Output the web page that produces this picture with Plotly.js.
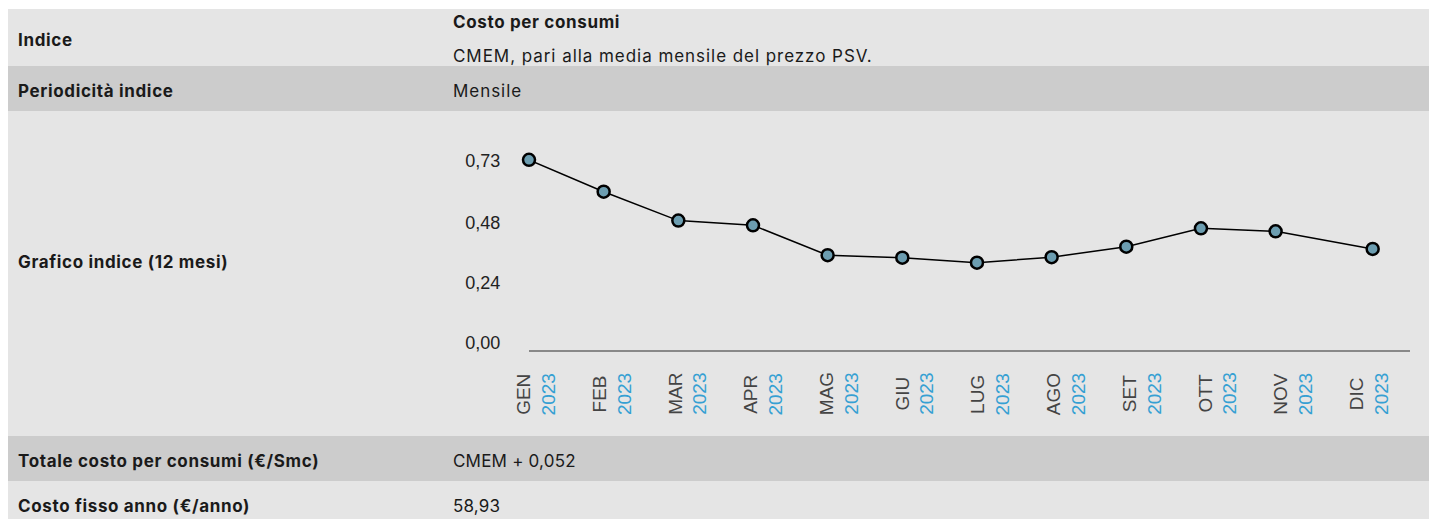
<!DOCTYPE html>
<html>
<head>
<meta charset="utf-8">
<script src="https://cdn.plot.ly/plotly-3.0.1.min.js"></script>
<style>
  html, body { margin: 0; padding: 0; background: #ffffff; width: 1430px; height: 519px; overflow: hidden; }
  #table { position: absolute; left: 0; top: 0; }
  #chart { position: absolute; left: 0; top: 111px; width: 1430px; height: 325px; }
</style>
</head>
<body>
<svg id="table" width="1430" height="519"></svg>
<div id="chart"></div>
<script>
// ---- data ----
const months = ['GEN','FEB','MAR','APR','MAG','GIU','LUG','AGO','SET','OTT','NOV','DIC'];
const years  = ['2023','2023','2023','2023','2023','2023','2023','2023','2023','2023','2023','2023'];
const values = [0.733,0.605,0.489,0.470,0.350,0.340,0.320,0.342,0.384,0.458,0.446,0.375];
const pointX = [0,1,2,3,4,5,6,7,8,9,10,11.30];
const yTickVals = [0,0.24,0.48,0.73];
const yTickText = ['0,00','0,24','0,48','0,73'];
const rowLabels = ['Indice','Periodicità indice','Grafico indice (12 mesi)','Totale costo per consumi (€/Smc)','Costo fisso anno (€/anno)'];
const indexTitle = 'Costo per consumi';
const indexDesc = 'CMEM, pari alla media mensile del prezzo PSV.';
const periodicity = 'Mensile';
const totalCost = 'CMEM + 0,052';
const fixedCost = '58,93';

// ---- table (rows) ----
const NS = 'http://www.w3.org/2000/svg';
const svg = document.getElementById('table');
const TFONT = '"Inter", "Noto Sans", sans-serif';
function rect(y, h, fill){ const r=document.createElementNS(NS,'rect'); r.setAttribute('x',8); r.setAttribute('y',y); r.setAttribute('width',1421); r.setAttribute('height',h); r.setAttribute('fill',fill); svg.appendChild(r); }
function txt(x, y, s, bold, ls){
  const t=document.createElementNS(NS,'text'); t.setAttribute('x',x); t.setAttribute('y',y);
  t.setAttribute('font-family',TFONT); t.setAttribute('font-size',17);
  t.setAttribute('font-weight',bold?700:400);
  t.setAttribute('letter-spacing', ls!==undefined ? ls : (bold?0.65:0.95));
  t.setAttribute('fill','#1a1a1a'); t.textContent=s; svg.appendChild(t); }
rect(9,57,'#e5e5e5'); rect(66,45,'#cccccc'); rect(111,325,'#e5e5e5'); rect(436,45,'#cccccc'); rect(481,45,'#e5e5e5');
txt(18,45.5,rowLabels[0],true);
txt(453,28.3,indexTitle,true);
txt(453,61.5,indexDesc,false);
txt(18,96.5,rowLabels[1],true);
txt(453,96.5,periodicity,false);
txt(18,268.2,rowLabels[2],true);
txt(18,467.2,rowLabels[3],true);
txt(453,467.2,totalCost,false,0.2);
txt(18,512.2,rowLabels[4],true);
txt(453,512.2,fixedCost,false,0.2);

// ---- chart ----
const AF = '"Liberation Sans", Arial, sans-serif';
const traces = [
  { type:'scatter', mode:'lines+markers', x: pointX, y: values, cliponaxis:false, hoverinfo:'skip',
    line:{color:'#000000', width:1.5},
    marker:{size:12, color:'#6c9db0', line:{color:'#000000', width:2.5}} },
  { type:'scatter', mode:'markers', x:[], y:[], xaxis:'x2', yaxis:'y', hoverinfo:'skip', showlegend:false }
];
const annotations = months.map((m,i)=>({
  xref:'x2', yref:'paper', x:i, y:0, yshift:-44, xanchor:'center', yanchor:'middle', align:'center',
  textangle:-90, showarrow:false, font:{family:AF, size:19, color:'#444444'},
  text: '<span style="color:#444444">'+m+'</span><br><span style="color:#35a0d3">'+years[i]+'</span>'
}));
const layout = {
  width:1430, height:325, margin:{l:529, r:20, t:19, b:86, pad:0},
  paper_bgcolor:'rgba(0,0,0,0)', plot_bgcolor:'rgba(0,0,0,0)', showlegend:false,
  xaxis:{range:[0,11.8], showgrid:false, zeroline:false, showticklabels:false, ticks:'', showline:true, linecolor:'#888888', linewidth:2},
  xaxis2:{range:[-0.0978,11.543], overlaying:'x', visible:false},
  yaxis:{range:[-0.031,0.853], tickmode:'array', tickvals:yTickVals, ticktext:yTickText, showgrid:false, zeroline:false, showline:false,
         ticks:'outside', ticklen:24, tickcolor:'rgba(0,0,0,0)', tickfont:{family:AF, size:18, color:'#222222'}},
  annotations: annotations
};
Plotly.newPlot('chart', traces, layout, {displayModeBar:false, staticPlot:true});
</script>
</body>
</html>
